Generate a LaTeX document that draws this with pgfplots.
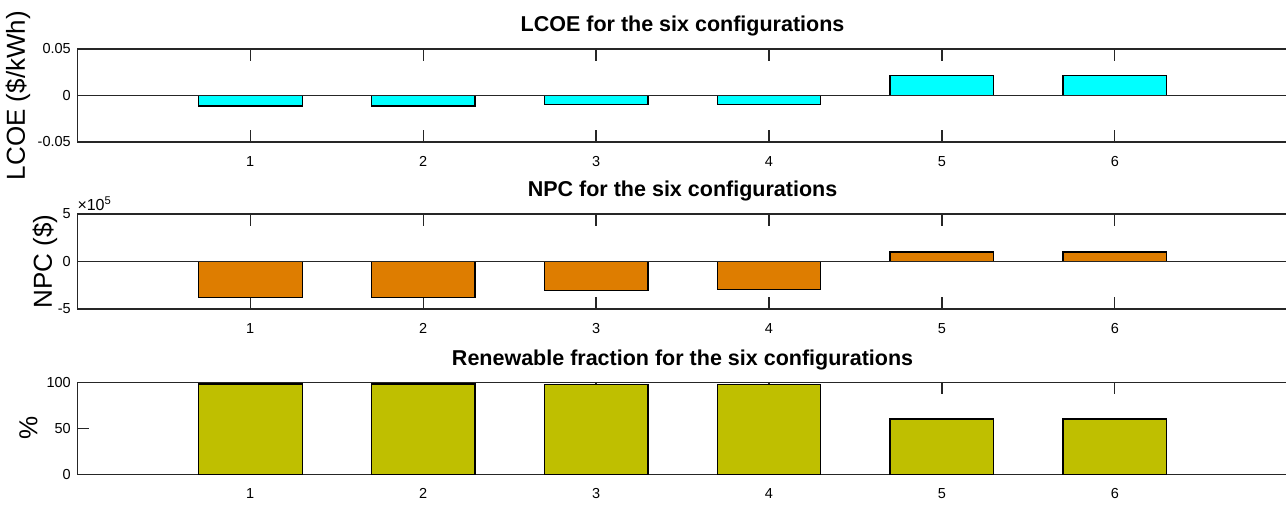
\documentclass[border=0pt]{standalone}
\usepackage{fontspec}
\setmainfont{Liberation Sans}
\usepackage{pgfplots}
\pgfplotsset{compat=1.18}
\definecolor{axgray}{RGB}{38,38,38}
\definecolor{barcyan}{RGB}{0,255,255}
\definecolor{barorange}{RGB}{222,125,0}
\definecolor{barolive}{RGB}{191,191,0}
\pgfplotsset{
  mlab/.style={
    scale only axis, width=1210.5pt, xmin=0, xmax=7,
    axis line style={axgray, line width=1.2pt},
    xtick align=inside, ytick align=inside,
    major tick length=12pt,
    xtick pos=both, ytick pos=left,
    major tick style={axgray, line width=1.2pt},
    xtick={1,2,3,4,5,6}, xticklabels={1,2,3,4,5,6},
    tick label style={font=\fontsize{14.5}{17}\selectfont, text=black},
    xticklabel style={yshift=-11pt},
    yticklabel style={xshift=-3pt},
    title style={font=\bfseries\fontsize{21.5}{25}\selectfont, at={(0.5,1)}, anchor=base, yshift=11pt},
    every axis y label/.style={font=\fontsize{26}{30}\selectfont, rotate=90, anchor=base},
    scaled y ticks=false,
    clip=false,
  },
  mbar/.style={ybar, bar width=0.6, bar shift=0pt, draw=black, line width=1.2pt, fill=#1},
}
\begin{document}
\begin{tikzpicture}
\path[use as bounding box] (0pt,0pt) rectangle (1286pt,-505pt);
% LCOE
\begin{axis}[mlab, at={(77.3pt,-142pt)}, anchor=south west, height=93pt,
  ymin=-0.05, ymax=0.05, ytick={-0.05,0,0.05}, yticklabels={-0.05,0,0.05},
  title={LCOE for the six configurations},
  ylabel={LCOE (\$/kWh)},
  ylabel style={at={(axis description cs:-0.0433,0.5)}}]
\addplot[mbar=barcyan] coordinates {(1,-0.0112) (2,-0.0112) (3,-0.0099) (4,-0.0099) (5,0.0211) (6,0.0211)};
\draw[axgray, line width=1pt] (axis cs:0,0) -- (axis cs:7,0);
\end{axis}
% NPC
\begin{axis}[mlab, at={(77.3pt,-309pt)}, anchor=south west, height=95pt,
  ymin=-500000, ymax=500000, ytick={-500000,0,500000}, yticklabels={-5,0,5},
  title={NPC for the six configurations},
  ylabel={NPC (\$)},
  ylabel style={at={(axis description cs:-0.0209,0.5)}}]
\addplot[mbar=barorange] coordinates {(1,-375000) (2,-375000) (3,-307000) (4,-293000) (5,99000) (6,99000)};
\draw[axgray, line width=1pt] (axis cs:0,0) -- (axis cs:7,0);
\node[anchor=base west, inner sep=0pt, font=\fontsize{16}{19}\selectfont] at (rel axis cs:0,1) [yshift=3pt] {×10\textsuperscript{5}};
\end{axis}
% Renewable fraction
\begin{axis}[mlab, at={(77.3pt,-474.3pt)}, anchor=south west, height=92pt,
  ymin=0, ymax=100, ytick={0,50,100}, yticklabels={0,50,100},
  title={Renewable fraction for the six configurations},
  ylabel={\%},
  ylabel style={at={(axis description cs:-0.0329,0.5)}}]
\addplot[mbar=barolive] coordinates {(1,98.2) (2,98.2) (3,97.8) (4,97.8) (5,60.1) (6,60.1)};
\end{axis}
\end{tikzpicture}
\end{document}
